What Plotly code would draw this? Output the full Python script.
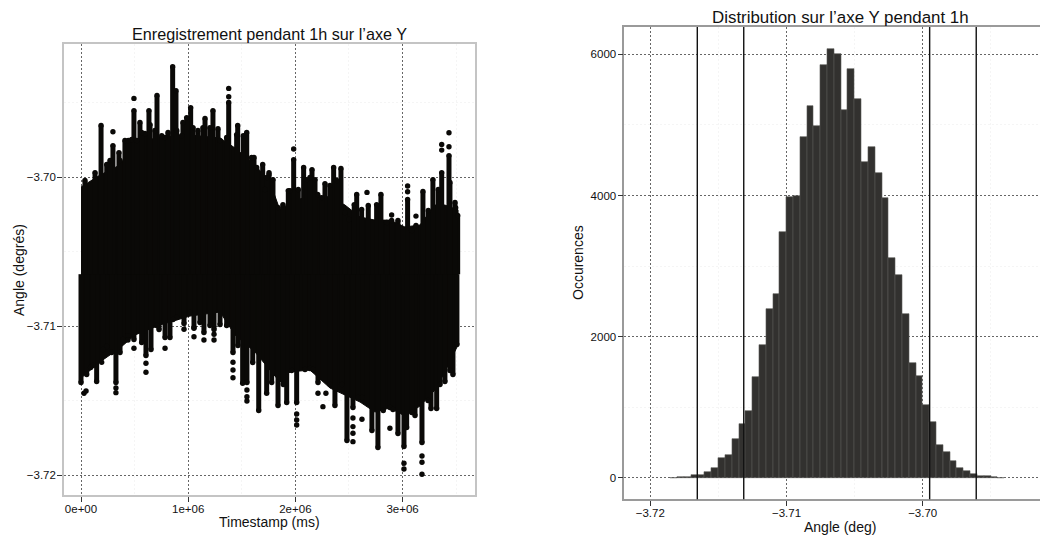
import plotly.graph_objects as go

# ---------- left panel data (timestamps in ms, angles in degrees) ----------
body_ts = [0,177000,364000,504000,737000,1017000,1297000,1437000,1623000,1763000,1856000,1950000,
           2136000,2323000,2463000,2603000,2742000,2882000,3022000,3162000,3302000,3395000,3517000]
body_high = [-3.70065,-3.69985,-3.69917,-3.69770,-3.69730,-3.69716,-3.69736,-3.69803,-3.69917,-3.70032,-3.70219,-3.70172,
             -3.70119,-3.70132,-3.70186,-3.70266,-3.70287,-3.70287,-3.70333,-3.70320,-3.70186,-3.70186,-3.70219]
body_low = [-3.71347,-3.71239,-3.71145,-3.71058,-3.70991,-3.70931,-3.70904,-3.71058,-3.71172,-3.71293,-3.71374,-3.71306,
            -3.71293,-3.71414,-3.71461,-3.71508,-3.71575,-3.71548,-3.71602,-3.71535,-3.71427,-3.71306,-3.71125]

BODY_CENTRE = -3.7065

top_ts = [37000,131000,187000,240000,298000,354000,410000,473000,494000,550000,597000,634000,709000,784000,855000,886000,
          951000,1023000,1091000,1157000,1231000,1278000,1378000,1462000,1546000,1614000,1695000,1754000,1791000,1884000,
          1950000,1984000,2077000,2155000,2208000,2276000,2357000,2425000,2500000,2572000,2758000,2798000,2898000,2957000,
          3047000,3125000,3190000,3283000,3365000,3433000,3495000,3514000]
top_angle = [-3.70021,-3.69968,-3.69652,-3.69914,-3.69787,-3.69834,-3.69753,-3.69746,-3.69552,-3.69632,-3.69706,-3.69552,
             -3.69451,-3.69733,-3.69257,-3.69418,-3.69632,-3.69532,-3.69686,-3.69605,-3.69552,-3.69673,-3.69498,-3.69652,
             -3.69699,-3.69867,-3.69914,-3.69981,-3.70015,-3.70183,-3.70089,-3.69881,-3.69934,-3.69948,-3.70115,-3.70042,
             -3.69934,-3.69941,-3.70283,-3.70115,-3.70183,-3.70115,-3.70290,-3.70290,-3.70149,-3.70323,-3.70095,-3.70015,
             -3.69968,-3.69854,-3.70203,-3.70256]

fringe_top_ts = [271000,364000,441000,520000,566000,644000,690000,753000,812000,893000,939000,986000,1045000,1138000,1203000,
                 1297000,1359000,1452000,1514000,1592000,1639000,1732000,1716000,1840000,1934000,2027000,2105000,2136000,
                 2183000,2245000,2323000,2385000,2463000,2549000,2618000,2680000,2852000,3085000,3240000,3333000,3442000,3489000]
fringe_top_angle = [-3.69887,-3.69887,-3.69753,-3.69753,-3.69699,-3.69646,-3.69686,-3.69720,-3.69699,-3.69686,-3.69720,-3.69599,
                    -3.69666,-3.69666,-3.69666,-3.69753,-3.69733,-3.69713,-3.69720,-3.69867,-3.69934,-3.70001,-3.70082,-3.70203,
                    -3.70089,-3.70082,-3.70015,-3.70001,-3.70015,-3.70136,-3.70055,-3.70021,-3.70236,-3.70183,-3.70216,-3.70189,
                    -3.70303,-3.70357,-3.70223,-3.70082,-3.70035,-3.70169]

bottom_ts = [0,90000,146000,240000,326000,392000,438000,494000,606000,653000,728000,784000,830000,893000,961000,1054000,
             1147000,1241000,1359000,1418000,1508000,1548000,1602000,1658000,1732000,1838000,1919000,2012000,2090000,
             2136000,2211000,2369000,2481000,2537000,2621000,2714000,2770000,2882000,2957000,3013000,3038000,3116000,
             3181000,3265000,3318000,3395000,3470000,3507000]
bottom_angle = [-3.71377,-3.71276,-3.71370,-3.71135,-3.71377,-3.71088,-3.71062,-3.71088,-3.71196,-3.71155,-3.71021,-3.71075,
                -3.71075,-3.70941,-3.70981,-3.71008,-3.71041,-3.71021,-3.70994,-3.71176,-3.71382,-3.71377,-3.71243,-3.71565,
                -3.71449,-3.71531,-3.71511,-3.71511,-3.71290,-3.71283,-3.71377,-3.71531,-3.71766,-3.71545,-3.71478,-3.71699,
                -3.71813,-3.71545,-3.71719,-3.71806,-3.71679,-3.71598,-3.71780,-3.71551,-3.71551,-3.71370,-3.71323,-3.71122]

fringe_bottom_ts = [53000,112000,205000,286000,364000,566000,706000,858000,1017000,1110000,1203000,1297000,1464000,1779000,1887000,
                    1965000,2164000,2323000,2432000,2584000,2820000,2910000,3085000,3237000,3349000,3442000]
fringe_bottom_angle = [-3.71323,-3.71263,-3.71155,-3.71176,-3.71176,-3.71108,-3.70994,-3.70954,-3.70907,-3.70974,-3.70994,-3.70988,-3.71129,-3.71377,-3.71390,
                       -3.71296,-3.71290,-3.71390,-3.71390,-3.71478,-3.71565,-3.71558,-3.71578,-3.71498,-3.71390,-3.71296]

dot_ts = [298000,494000,1378000,1378000,1984000,3365000,3365000,3433000,3433000,2668000,1754000,2898000,3125000,3047000,3047000,
          28000,47000,326000,326000,606000,606000,193000,784000,494000,438000,1054000,1054000,1147000,1241000,1241000,961000,
          1418000,1418000,1418000,1548000,1548000,1548000,2012000,2012000,2012000,2211000,2257000,2285000,2537000,2537000,
          2537000,2537000,2621000,2882000,3013000,3013000,3181000,3181000,3181000]
dot_angle = [-3.69694,-3.69470,-3.69403,-3.69459,-3.69810,-3.69779,-3.69817,-3.69701,-3.69795,-3.70101,-3.69969,-3.70253,-3.70260,-3.70058,-3.70097,
             -3.71449,-3.71434,-3.71414,-3.71445,-3.71248,-3.71308,-3.71241,-3.71147,-3.71147,-3.71092,-3.71013,-3.71070,-3.71092,-3.71053,-3.71092,-3.71020,
             -3.71241,-3.71293,-3.71345,-3.71427,-3.71472,-3.71501,-3.71588,-3.71629,-3.71662,-3.71449,-3.71539,-3.71449,-3.71615,-3.71673,
             -3.71718,-3.71774,-3.71624,-3.71684,-3.71919,-3.71957,-3.71870,-3.71912,-3.71993]

time_ticks = [0, 1000000, 2000000, 3000000]
time_labels = ["0e+00", "1e+06", "2e+06", "3e+06"]
angle_ticks = [-3.72, -3.71, -3.70]
angle_labels = ["\u22123.72", "\u22123.71", "\u22123.70"]

# ---------- right panel data ----------
bin_left_edges = [-3.7185,-3.7180,-3.7175,-3.7170,-3.7165,-3.7160,-3.7155,-3.7150,-3.7145,-3.7140,-3.7135,-3.7130,
                  -3.7125,-3.7120,-3.7115,-3.7110,-3.7105,
                  -3.7100,-3.7095,-3.7090,-3.7085,-3.7080,-3.7075,-3.7070,-3.7065,-3.7060,-3.7055,-3.7050,-3.7045,
                  -3.7040,-3.7035,-3.7030,-3.7025,-3.7020,-3.7015,-3.7010,-3.7005,-3.7000,-3.6995,-3.6990,-3.6985,
                  -3.6980,-3.6975,-3.6970,-3.6965,-3.6960,-3.6955,-3.6950,-3.6945]
bin_counts = [2,9,19,38,42,90,146,278,330,552,759,948,
              1429,1877,2396,2600,3486,
              3986,3995,4830,5270,4980,5850,6080,6000,5210,5800,5375,4470,
              4690,4320,3970,3110,2877,2325,1627,1448,1033,788,462,363,
              245,142,104,57,33,28,9,4]
BIN_WIDTH = 0.0005
count_ticks = [0, 2000, 4000, 6000]
count_labels = ["0", "2000", "4000", "6000"]
vline_angles = [-3.71655, -3.71314, -3.69949, -3.69607]
deg_ticks = [-3.72, -3.71, -3.70]
deg_labels = ["\u22123.72", "\u22123.71", "\u22123.70"]

# ---------- figure ----------
# The page body has an 8 px margin, so pixel positions below are window pixels minus that offset.
OFF = 8
W, H = 1048 - OFF, 536 - OFF
INK = "#0a0907"
FONT = "Liberation Sans"


def fx(px):
    return (px - OFF) / W


def fy(py):
    return 1 - (py - OFF) / H


fig = go.Figure()

fig.add_trace(go.Scatter(
    x=body_ts + body_ts[::-1], y=body_high + body_low[::-1],
    mode="lines", fill="toself", fillcolor=INK, line=dict(color=INK, width=1),
    xaxis="x", yaxis="y", hoverinfo="skip", showlegend=False))

spike_x, spike_y, tip_x, tip_y = [], [], [], []
for t, a in (list(zip(top_ts, top_angle)) + list(zip(bottom_ts, bottom_angle))
             + list(zip(fringe_top_ts, fringe_top_angle)) + list(zip(fringe_bottom_ts, fringe_bottom_angle))):
    spike_x += [t, t, None]
    spike_y += [BODY_CENTRE, a, None]
    tip_x.append(t)
    tip_y.append(a)

fig.add_trace(go.Scatter(x=spike_x, y=spike_y, mode="lines", line=dict(color=INK, width=5),
                         xaxis="x", yaxis="y", hoverinfo="skip", showlegend=False))
fig.add_trace(go.Scatter(x=tip_x + dot_ts, y=tip_y + dot_angle, mode="markers",
                         marker=dict(color=INK, size=5.4, line=dict(width=0)),
                         xaxis="x", yaxis="y", showlegend=False))

fig.add_trace(go.Bar(
    x=[e + BIN_WIDTH / 2 for e in bin_left_edges], y=bin_counts, width=BIN_WIDTH,
    marker=dict(color="#32312f", line=dict(color="#5a5a58", width=0.6)),
    xaxis="x2", yaxis="y2", showlegend=False))


def axis(domain, rng, ticks, labels, anchor, mirror, line_color, minor_step, standoff):
    return dict(
        domain=domain, range=rng, anchor=anchor, tickmode="array", tickvals=ticks, ticktext=labels,
        ticks="outside", ticklen=5, tickwidth=1, tickcolor="#333333", ticklabelstandoff=standoff,
        tickfont=dict(family=FONT, size=11.5, color="#111111"),
        showline=True, linecolor=line_color, linewidth=1.6, mirror=mirror, zeroline=False,
        showgrid=True, gridcolor="#666666", gridwidth=0.8, griddash="2px,2px",
        minor=dict(showgrid=True, gridcolor="#f5f5f5", gridwidth=1, dtick=minor_step, ticks=""),
    )


fig.update_layout(
    width=W, height=H, autosize=False, margin=dict(l=0, r=0, t=0, b=0),
    paper_bgcolor="white", plot_bgcolor="white", bargap=0, showlegend=False,
    font=dict(family=FONT, color="#111111"),
    xaxis=axis([fx(64), fx(474.5)], [-158600, 3671000], time_ticks, time_labels, "y", True, "#c4c4c4", 500000, -3),
    yaxis=axis([fy(495), fy(44)], [-3.72132, -3.69105], angle_ticks, angle_labels, "x", True, "#c4c4c4", 0.005, -1),
    xaxis2=axis([fx(624.3), 1], [-3.72191, -3.69080], deg_ticks, deg_labels, "y2", True, "#9a9a9a", 0.005, -3),
    yaxis2=axis([fy(499.3), fy(27)], [-302, 6388], count_ticks, count_labels, "x2", False, "#9a9a9a", 1000, -1),
)

for a in vline_angles:
    fig.add_shape(type="line", xref="x2", yref="y2 domain", x0=a, x1=a, y0=0, y1=1,
                  line=dict(color="#111111", width=1.4), layer="above")


def label(text, px, py, size, angle=0):
    fig.add_annotation(text=text, xref="paper", yref="paper", x=fx(px), y=fy(py),
                       xanchor="center", yanchor="middle", showarrow=False, textangle=angle,
                       font=dict(family=FONT, size=size, color="#111111"))


label("Enregistrement pendant 1h sur l\u2019axe Y", 269, 34, 16.2)
label("Timestamp (ms)", 269, 522, 14)
label("Angle (degr\u00e9s)", 19, 270, 14, -90)
label("Distribution sur l\u2019axe Y pendant 1h", 840, 18, 16.9)
label("Angle (deg)", 840, 527, 14)
label("Occurences", 578, 263, 14, -90)

fig.write_html("out.html")
